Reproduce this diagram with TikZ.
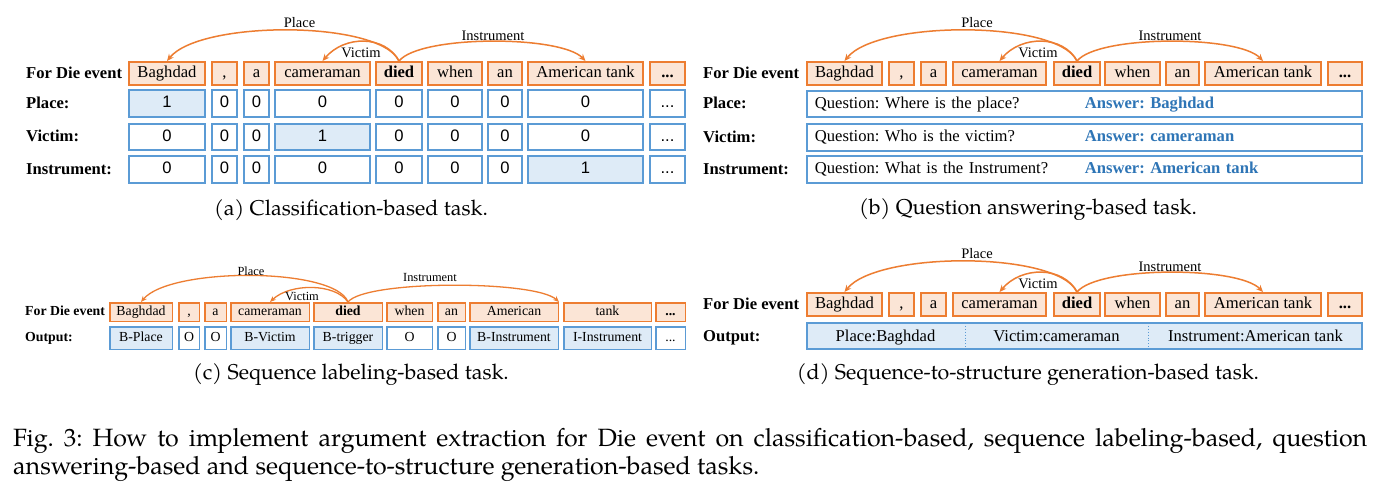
\documentclass[tikz,border=0pt]{standalone}
\usepackage{fontspec}
\setmainfont{Liberation Serif}
\newfontfamily\numfont{Liberation Sans}
\newfontfamily\capfont{TeX Gyre Pagella}
\usetikzlibrary{arrows.meta}
\definecolor{org}{HTML}{ED7D31}
\definecolor{lorg}{HTML}{FBE5D6}
\definecolor{blu}{HTML}{5B9BD5}
\definecolor{lblu}{HTML}{DEEBF7}
\definecolor{ans}{HTML}{2E75B6}
\newcommand\mydots{...}
\frenchspacing
\tikzset{
  tok/.style={draw=org, fill=lorg, line width=1.8pt, inner sep=0pt, text height=12pt, text depth=4pt, font=\fontsize{16.6}{19}\selectfont},
  ctok/.style={draw=org, fill=lorg, line width=1.5pt, inner sep=0pt, text height=10pt, text depth=3.3pt, font=\fontsize{13.8}{16}\selectfont},
  cell/.style={draw=blu, line width=1.8pt, inner sep=0pt, text height=12pt, text depth=4pt, font=\numfont\fontsize{16.6}{19}\selectfont},
  ccell/.style={draw=blu, line width=1.5pt, inner sep=0pt, text height=10pt, text depth=3.3pt, font=\fontsize{13.8}{16}\selectfont},
  qbox/.style={draw=blu, fill=white, line width=1.8pt, inner xsep=8pt, inner ysep=0pt, minimum width=555.2pt, text width=539.2pt, align=left, minimum height=26.5pt, text height=12pt, text depth=4pt, font=\fontsize{16.6}{19}\selectfont},
  lab/.style={anchor=west, inner sep=0pt, text height=12pt, text depth=4pt, font=\bfseries\fontsize{16.6}{19}\selectfont},
  clab/.style={anchor=west, inner sep=0pt, text height=10pt, text depth=3.3pt, font=\bfseries\fontsize{13.8}{16}\selectfont},
  arc/.style={draw=org, line width=1.5pt, -{Stealth[length=7pt,width=6pt]}},
  carc/.style={draw=org, line width=1.3pt, -{Stealth[length=6pt,width=5pt]}},
  arclab/.style={inner sep=0pt, font=\fontsize{14.5}{16}\selectfont},
  carclab/.style={inner sep=0pt, font=\fontsize{12.4}{14}\selectfont},
  otext/.style={inner sep=0pt, text height=12pt, text depth=4pt, font=\fontsize{16.6}{19}\selectfont},
  subcap/.style={inner sep=0pt, font=\capfont\fontsize{21.4}{24}\selectfont},
}
\begin{document}
\begin{tikzpicture}[x=1pt,y=-1pt]
\useasboundingbox (0,0) rectangle (1400,503);
\fill[white] (0,0) rectangle (1400,503);

% ---------------- (a) classification ----------------
\foreach \xa/\xb/\tx [count=\i] in {128/206/Baghdad,211/238/{,},243/270/a,274/371/cameraman,375/423/\textbf{died},427/483/when,487/523/an,527/644/American tank,649/686/\textbf{\mydots}}
  \node[tok, minimum width={\xb-\xa-1.8}, minimum height=23.2] (at\i) at ({(\xa+\xb)/2},73.5) {\tx};
\foreach \y/\r/\hc in {103.5/p/1,137/v/4,169.5/n/8}
  \foreach \xa/\xb [count=\i] in {128/206,211/238,243/270,274/371,375/423,427/483,487/523,527/644,649/686} {
    \ifnum\i=\hc\relax \def\fc{lblu}\def\val{1}\else\def\fc{white}\def\val{0}\fi
    \ifnum\i=9\relax \def\val{\mydots}\fi
    \node[cell, fill=\fc, minimum width={\xb-\xa-1.8}, minimum height=26.7] (a\r\i) at ({(\xa+\xb)/2},\y) {\val};
  }
\node[lab] (alt) at (26,74.5) {For Die event};
\node[lab] (alp) at (26,104) {Place:};
\node[lab] (alv) at (26,137.5) {Victim:};
\node[lab] (aln) at (26,170) {Instrument:};
\draw[arc] (at5.north) .. controls +(-19,-41) and +(33,-41) .. (at1.north);
\draw[arc] (at5.north) .. controls +(-14,-26) and +(22,-26) .. (at4.north);
\draw[arc] (at5.north) .. controls +(21,-26) and +(-25,-26) .. (at8.north);
\node[arclab] (aap) at (299.5,23) {Place};
\node[arclab] (aav) at (361,53) {Victim};
\node[arclab] (aai) at (493,36) {Instrument};
\node[subcap] (capa) at (351,210) {(a) Classification-based task.};

% ---------------- (b) question answering ----------------
\foreach \xa/\xb/\tx [count=\i] in {806/883/Baghdad,888/915/{,},920/947/a,952/1047/cameraman,1053/1101/\textbf{died},1104/1161/when,1165/1200/an,1204/1322/American tank,1327/1363/\textbf{\mydots}}
  \node[tok, minimum width={\xb-\xa-1.8}, minimum height=23.2] (bt\i) at ({(\xa+\xb)/2},73.5) {\tx};
\node[lab] (blt) at (703,74.5) {For Die event};
\node[lab] (blp) at (703,104.5) {Place:};
\node[lab] (blv) at (703,138) {Victim:};
\node[lab] (bln) at (703,170) {Instrument:};
\node[qbox] (bq1) at (1084.5,104) {\makebox[270pt][l]{Question: Where is the place?}\textcolor{ans}{\bfseries Answer: Baghdad}};
\node[qbox] (bq2) at (1084.5,137.5) {\makebox[270pt][l]{Question: Who is the victim?}\textcolor{ans}{\bfseries Answer: cameraman}};
\node[qbox] (bq3) at (1084.5,169.5) {\makebox[270pt][l]{Question: What is the Instrument?}\textcolor{ans}{\bfseries Answer: American tank}};
\draw[arc] (bt5.north) .. controls +(-19,-41) and +(33,-41) .. (bt1.north);
\draw[arc] (bt5.north) .. controls +(-14,-26) and +(22,-26) .. (bt4.north);
\draw[arc] (bt5.north) .. controls +(21,-26) and +(-25,-26) .. (bt8.north);
\node[arclab] (bap) at (977,23) {Place};
\node[arclab] (bav) at (1038,53) {Victim};
\node[arclab] (bai) at (1170,36) {Instrument};
\node[subcap] (capb) at (1028,210) {(b) Question answering-based task.};

% ---------------- (c) sequence labeling ----------------
\foreach \xa/\xb/\tx [count=\i] in {109/173/Baghdad,178/200/{,},204/227/a,230/310/cameraman,313/383/\textbf{died},386/433/when,437/466/an,469/559/American,563/652/tank,655/686/\textbf{\mydots}}
  \node[ctok, minimum width={\xb-\xa-1.5}, minimum height=18.5] (ct\i) at ({(\xa+\xb)/2},312) {\tx};
\foreach \xa/\xb/\tx/\fc [count=\i] in {109/173/B-Place/lblu,178/200/O/white,204/227/O/white,230/310/B-Victim/lblu,313/383/B-trigger/lblu,386/433/O/white,437/466/O/white,469/559/B-Instrument/lblu,563/652/I-Instrument/lblu,655/686/\mydots/white}
  \node[ccell, fill=\fc, minimum width={\xb-\xa-1.5}, minimum height=22.5] (co\i) at ({(\xa+\xb)/2},338) {\tx};
\node[clab] (clt) at (25,312) {For Die event};
\node[clab] (clo) at (25,338) {Output:};
\draw[carc] (ct5.north) .. controls +(-13,-35) and +(29,-35) .. (ct1.north);
\draw[carc] (ct5.north) .. controls +(-13,-19) and +(20,-19) .. (ct4.north);
\draw[carc] (ct5.north) .. controls +(17,-22) and +(-24,-22) .. (ct8.north east);
\node[carclab] (cap) at (251,271) {Place};
\node[carclab] (cav) at (302,296) {Victim};
\node[carclab] (cai) at (430,277) {Instrument};
\node[subcap] (capc) at (351,375) {(c) Sequence labeling-based task.};

% ---------------- (d) sequence-to-structure ----------------
\foreach \xa/\xb/\tx [count=\i] in {806/883/Baghdad,888/915/{,},920/947/a,952/1047/cameraman,1053/1101/\textbf{died},1104/1161/when,1165/1200/an,1204/1322/American tank,1327/1363/\textbf{\mydots}}
  \node[tok, minimum width={\xb-\xa-1.8}, minimum height=23.2] (dt\i) at ({(\xa+\xb)/2},304.5) {\tx};
\node[lab] (dlt) at (703,305.5) {For Die event};
\node[lab] (dlo) at (703,337.5) {Output:};
\node[draw=blu, fill=lblu, line width=1.8pt, minimum width=555.2, minimum height=26.2, inner sep=0pt] (dout) at (1084.5,336) {};
\draw[blu, dotted, line width=0.9pt] (965,323) -- (965,349);
\draw[blu, dotted, line width=0.9pt] (1148,323) -- (1148,349);
\node[otext] (do1) at (885.5,337) {Place:Baghdad};
\node[otext] (do2) at (1056.5,337) {Victim:cameraman};
\node[otext] (do3) at (1255.5,337) {Instrument:American tank};
\draw[arc] (dt5.north) .. controls +(-19,-41) and +(33,-41) .. (dt1.north);
\draw[arc] (dt5.north) .. controls +(-14,-26) and +(22,-26) .. (dt4.north);
\draw[arc] (dt5.north) .. controls +(21,-26) and +(-25,-26) .. (dt8.north);
\node[arclab] (dap) at (977,254) {Place};
\node[arclab] (dav) at (1038,284) {Victim};
\node[arclab] (dai) at (1170,267) {Instrument};
\node[subcap] (capd) at (1028,375) {(d) Sequence-to-structure generation-based task.};

% ---------------- figure caption ----------------
\node[anchor=north west, inner sep=0pt, text width=1354pt, align=justify, font=\capfont\fontsize{25}{28}\selectfont] (figcap) at (13,428)
 {Fig. 3: How to implement argument extraction for Die event on classification-based, sequence labeling-based, question\linebreak answering-based and sequence-to-structure generation-based tasks.};
\end{tikzpicture}
\end{document}
